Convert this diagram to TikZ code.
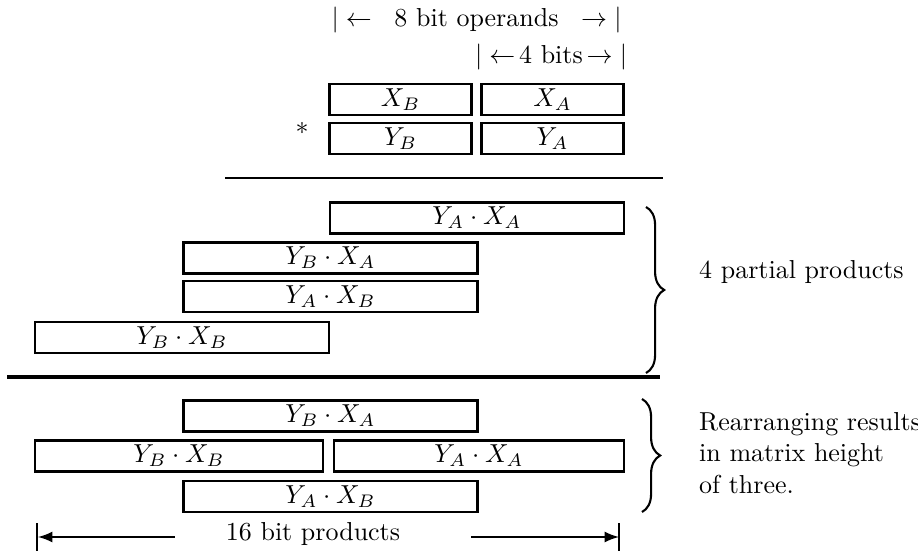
\documentclass[tikz,border=0pt]{standalone}
\usepackage{amssymb}
\usetikzlibrary{decorations.pathreplacing}
\newcommand{\pxu}{0.385pt}

\begin{document}
\begin{tikzpicture}[x=\pxu, y=-\pxu,
    wbox/.style={draw, line width=1.1pt, inner sep=0pt, minimum height=31*\pxu},
    half/.style={wbox, minimum width=142*\pxu},
    full/.style={wbox, minimum width=294*\pxu},
    span/.style={inner sep=0pt, text width=#1*\pxu}]
\useasboundingbox (0,0) rectangle (918,555);
% operands
\node[span=290] (ops) at (476.5,20) {$|\leftarrow$\hfill 8 bit operands\hfill$\rightarrow|$};
\node[inner sep=0pt] (four) at (551,57) {\hbox to 58.5pt{$|\leftarrow$\hfil 4 bits\hfil$\rightarrow|$}};
\node[half] (xb) at (400.5,99.5) {$X_B$};
\node[half] (xa) at (552.5,99.5) {$X_A$};
\node[half] (yb) at (400.5,138.5) {$Y_B$};
\node[half] (ya) at (552.5,138.5) {$Y_A$};
\node (mul) at (302,128) {$*$};
\draw[line width=0.8pt]
    (225,178)--(663,178);
% partial products
\node[full] (p1) at (477,218) {$Y_A \cdot X_A$};
\node[full] (p2) at (330.5,258) {$Y_B \cdot X_A$};
\node[full] (p3) at (330.5,296.5) {$Y_A \cdot X_B$};
\node[full] (p4) at (182,337.5) {$Y_B \cdot X_B$};
\draw[line width=1.2pt]
    (7,377)--(660,377);
\draw[thick, decorate, decoration={brace, amplitude=7pt}]
    (646,207)--(646,373);
\node[anchor=west] (lbl1) at (690,272) {4 partial products};
% rearranged
\node[full] (r1) at (330.5,416) {$Y_B \cdot X_A$};
\node[wbox, minimum width=288*\pxu] (r2) at (179,456) {$Y_B \cdot X_B$};
\node[wbox, minimum width=290*\pxu] (r3) at (479,456) {$Y_A \cdot X_A$};
\node[full] (r4) at (330.5,496.5) {$Y_A \cdot X_B$};
\draw[thick, decorate, decoration={brace, amplitude=7pt}]
    (642,399)--(642,512);
\node[anchor=west, align=left] (lbl2) at (690,453) {Rearranging results\\in matrix height\\of three.};
% result width
\node (prod) at (313,534) {16 bit products};
\coordinate (pl) at (38,537);
\coordinate (pr) at (619,537);
\draw (37,523)--(37,551);
\draw (619,523)--(619,551);
\draw[line width=0.9pt, -latex]
    ([xshift=-42*\pxu]prod.west |- pl)--(pl);
\draw[line width=0.9pt, -latex]
    ([xshift=62*\pxu]prod.east |- pr)--(pr);
\end{tikzpicture}
\end{document}
